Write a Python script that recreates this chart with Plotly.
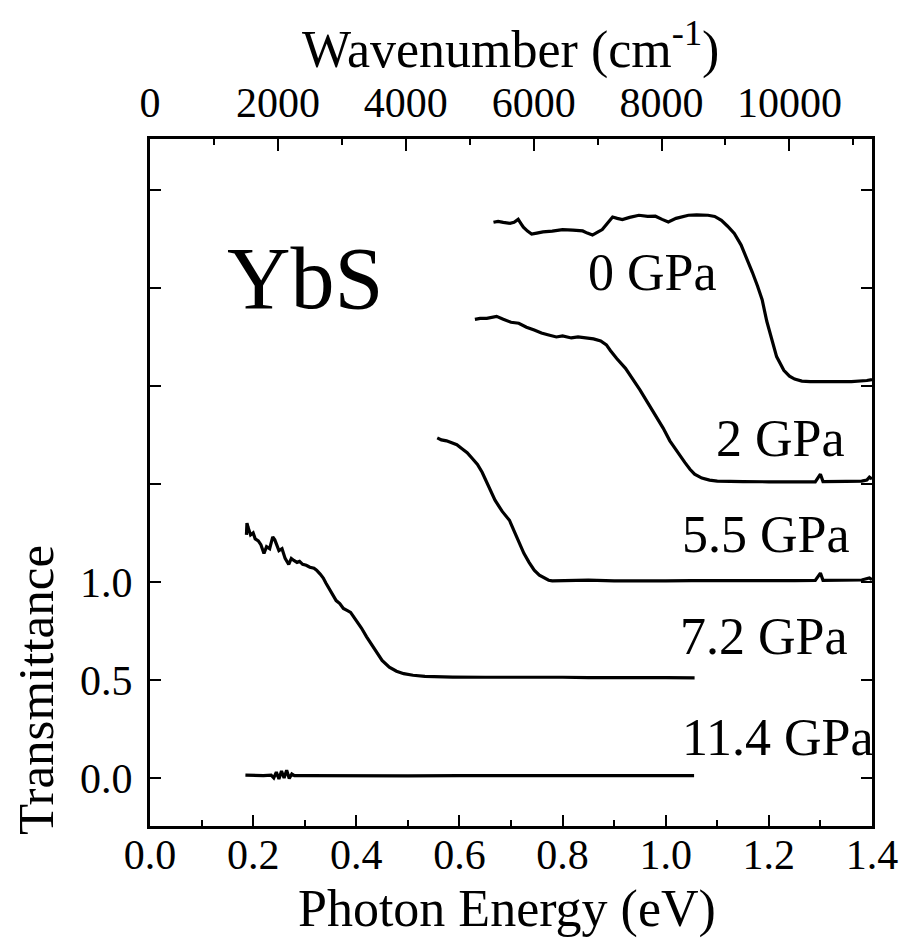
import numpy as np
import plotly.graph_objects as go

# ---------------- data ----------------
pressures = ["0 GPa", "2 GPa", "5.5 GPa", "7.2 GPa", "11.4 GPa"]
offsets = [2.0, 1.5, 1.0, 0.5, 0.0]

E_0gpa = [0.666, 0.675, 0.685, 0.698, 0.706, 0.714, 0.719, 0.724, 0.732, 0.74,
          0.75, 0.762, 0.78, 0.80, 0.82, 0.839, 0.848, 0.858, 0.868, 0.877,
          0.887, 0.897, 0.906, 0.916, 0.93, 0.948, 0.965, 0.98, 0.993, 1.005,
          1.02, 1.044, 1.06, 1.082, 1.095, 1.108, 1.12, 1.133, 1.146, 1.159,
          1.168, 1.178, 1.187, 1.196, 1.206, 1.215, 1.229, 1.24, 1.25, 1.264,
          1.28, 1.32, 1.36, 1.39, 1.4]
T_0gpa = [0.835, 0.84, 0.835, 0.83, 0.835, 0.85, 0.83, 0.81, 0.79, 0.775,
          0.78, 0.786, 0.79, 0.798, 0.795, 0.791, 0.78, 0.77, 0.785, 0.798,
          0.83, 0.862, 0.855, 0.849, 0.86, 0.871, 0.865, 0.866, 0.85, 0.837,
          0.855, 0.871, 0.873, 0.871, 0.865, 0.845, 0.815, 0.778, 0.72, 0.641,
          0.58, 0.51, 0.44, 0.33, 0.23, 0.15, 0.08, 0.05, 0.035, 0.025,
          0.022, 0.021, 0.022, 0.028, 0.033]

E_2gpa = [0.630, 0.640, 0.653, 0.662, 0.672, 0.685, 0.70, 0.715, 0.73, 0.745,
          0.759, 0.773, 0.788, 0.80, 0.817, 0.83, 0.845, 0.86, 0.874, 0.885,
          0.893, 0.905, 0.922, 0.935, 0.95, 0.965, 0.98, 0.995, 1.008, 1.022,
          1.037, 1.047, 1.056, 1.07, 1.085, 1.10, 1.12, 1.15, 1.2, 1.25,
          1.29, 1.30, 1.305, 1.35, 1.38, 1.39, 1.395, 1.4]
T_2gpa = [0.84, 0.845, 0.845, 0.85, 0.855, 0.84, 0.825, 0.82, 0.80, 0.785,
          0.77, 0.76, 0.75, 0.755, 0.745, 0.75, 0.745, 0.74, 0.73, 0.71,
          0.68, 0.64, 0.59, 0.54, 0.48, 0.415, 0.35, 0.285, 0.22, 0.165,
          0.11, 0.075, 0.05, 0.03, 0.02, 0.015, 0.013, 0.012, 0.011, 0.012,
          0.011, 0.05, 0.012, 0.013, 0.015, 0.02, 0.035, 0.025]

E_55gpa = [0.557, 0.565, 0.575, 0.586, 0.595, 0.605, 0.615, 0.625, 0.635, 0.644,
           0.655, 0.669, 0.683, 0.697, 0.711, 0.725, 0.735, 0.745, 0.755, 0.765,
           0.773, 0.78, 0.8, 0.85, 0.9, 0.95, 1.0, 1.05, 1.1, 1.15,
           1.2, 1.25, 1.29, 1.30, 1.305, 1.35, 1.38, 1.395, 1.4]
T_55gpa = [0.735, 0.725, 0.72, 0.71, 0.70, 0.68, 0.66, 0.63, 0.60, 0.56,
           0.50, 0.417, 0.36, 0.315, 0.23, 0.146, 0.10, 0.06, 0.035, 0.018,
           0.009, 0.006, 0.007, 0.009, 0.006, 0.008, 0.006, 0.007, 0.006, 0.007,
           0.006, 0.007, 0.008, 0.045, 0.008, 0.009, 0.01, 0.02, 0.012]

E_72gpa = [0.187, 0.188, 0.190, 0.195, 0.200, 0.204, 0.210, 0.215, 0.221, 0.226,
           0.232, 0.238, 0.242, 0.245, 0.250, 0.256, 0.262, 0.269, 0.274, 0.279,
           0.285, 0.290, 0.296, 0.303, 0.310, 0.318, 0.323, 0.330, 0.336, 0.341,
           0.350, 0.361, 0.368, 0.375, 0.382, 0.389, 0.398, 0.410, 0.420, 0.437,
           0.450, 0.464, 0.478, 0.492, 0.510, 0.533, 0.56, 0.587, 0.65, 0.7,
           0.75, 0.8, 0.85, 0.9, 0.95, 1.0, 1.056]
T_72gpa = [0.74, 0.80, 0.78, 0.74, 0.75, 0.72, 0.71, 0.69, 0.645, 0.68,
           0.67, 0.73, 0.715, 0.69, 0.66, 0.67, 0.62, 0.59, 0.62, 0.61,
           0.60, 0.605, 0.59, 0.585, 0.575, 0.57, 0.56, 0.54, 0.52, 0.495,
           0.455, 0.405, 0.39, 0.365, 0.355, 0.345, 0.31, 0.265, 0.22, 0.15,
           0.10, 0.065, 0.045, 0.032, 0.024, 0.018, 0.016, 0.015, 0.014, 0.015,
           0.013, 0.014, 0.012, 0.013, 0.012, 0.012, 0.011]

E_114gpa = [0.185, 0.20, 0.22, 0.235, 0.24, 0.245, 0.25, 0.255, 0.26, 0.265,
            0.27, 0.275, 0.28, 0.30, 0.35, 0.4, 0.5, 0.6, 0.7, 0.8,
            0.9, 1.0, 1.055]
T_114gpa = [0.015, 0.013, 0.012, 0.014, 0.0, 0.03, -0.005, 0.035, 0.0, 0.04,
            -0.003, 0.02, 0.012, 0.012, 0.011, 0.012, 0.011, 0.012, 0.011, 0.012,
            0.011, 0.012, 0.012]

energy_sets = [E_0gpa, E_2gpa, E_55gpa, E_72gpa, E_114gpa]
trans_sets = [T_0gpa, T_2gpa, T_55gpa, T_72gpa, T_114gpa]

x_ticks = [0.0, 0.2, 0.4, 0.6, 0.8, 1.0, 1.2, 1.4]
x_ticklabels = ["0.0", "0.2", "0.4", "0.6", "0.8", "1.0", "1.2", "1.4"]
y_label_ticks = [0.0, 0.5, 1.0]
y_label_text = ["0.0", "0.5", "1.0"]
y_all_ticks = [0.0, 0.5, 1.0, 1.5, 2.0, 2.5, 3.0]
wn_ticks = [0, 2000, 4000, 6000, 8000, 10000]
wn_ticklabels = ["0", "2000", "4000", "6000", "8000", "10000"]
EV_TO_CM = 8065.54
Y_RANGE = [-0.245, 3.26]

# label positions (energy, offset-transmittance)
label_x = [0.974, 1.223, 1.195, 1.19, 1.217]
label_y = [2.58, 1.733, 1.243, 0.723, 0.208]

# ---------------- figure ----------------
# The page body keeps the browser's default 8px margin, so the figure is
# made 8px smaller and its margins are reduced by 8px on the left/top.
FONT = "Liberation Serif"
fig = go.Figure()
for E, T, off in zip(energy_sets, trans_sets, offsets):
    fig.add_trace(go.Scatter(
        x=E, y=np.array(T) + off, mode="lines",
        line=dict(color="black", width=3.2), showlegend=False, hoverinfo="skip"))

# invisible traces to anchor the top and right axes
fig.add_trace(go.Scatter(x=[0], y=[-10], xaxis="x2", mode="lines",
                         showlegend=False, hoverinfo="skip"))
fig.add_trace(go.Scatter(x=[0], y=[-10], yaxis="y2", mode="lines",
                         showlegend=False, hoverinfo="skip"))

axis_common = dict(showline=True, linewidth=3, linecolor="black",
                   showgrid=False, zeroline=False, ticks="inside",
                   tickcolor="black", tickwidth=2,
                   tickfont=dict(family=FONT, size=42, color="black"))

fig.update_layout(
    width=902, height=937,
    margin=dict(l=142, r=31, t=131, b=119, pad=0),
    paper_bgcolor="white", plot_bgcolor="white",
    font=dict(family=FONT, color="black"),
    showlegend=False,
    xaxis=dict(range=[0, 1.4], tickmode="array", tickvals=x_ticks,
               ticktext=x_ticklabels, ticklen=11, ticklabelstandoff=-10,
               minor=dict(ticks="inside", ticklen=6, tickwidth=2,
                          tickcolor="black", dtick=0.1, tick0=0,
                          showgrid=False),
               **axis_common),
    xaxis2=dict(overlaying="x", side="top", anchor="y",
                range=[0, 1.4 * EV_TO_CM], tickmode="array",
                tickvals=wn_ticks, ticktext=wn_ticklabels, ticklen=12,
                ticklabelstandoff=2,
                minor=dict(ticks="inside", ticklen=6, tickwidth=2,
                           tickcolor="black", dtick=1000, tick0=0,
                           showgrid=False),
                **axis_common),
    yaxis=dict(range=Y_RANGE, tickmode="array", tickvals=y_label_ticks,
               ticktext=y_label_text, ticklen=11, ticklabelstandoff=6,
               minor=dict(ticks="inside", ticklen=11, tickwidth=2,
                          tickcolor="black", dtick=0.5, tick0=0,
                          showgrid=False),
               **axis_common),
    yaxis2=dict(overlaying="y", side="right", anchor="x", range=Y_RANGE,
                tickmode="array", tickvals=y_all_ticks, ticklen=11,
                showticklabels=False, **axis_common),
)

annotations = []
for name, lx, ly in zip(pressures, label_x, label_y):
    annotations.append(dict(x=lx, y=ly, xref="x", yref="y", text=name,
                            showarrow=False, xanchor="center", yanchor="middle",
                            font=dict(family=FONT, size=52, color="black")))
annotations.append(dict(x=0.302, y=2.55, xref="x", yref="y", text="YbS",
                        showarrow=False, xanchor="center", yanchor="middle",
                        font=dict(family=FONT, size=88, color="black")))
annotations.append(dict(x=0.494, y=-0.121, xref="paper", yref="paper",
                        text="Photon Energy (eV)", showarrow=False,
                        xanchor="center", yanchor="middle",
                        font=dict(family=FONT, size=52, color="black")))
annotations.append(dict(x=0.499, y=1.135, xref="paper", yref="paper",
                        text="Wavenumber (cm<sup>-1</sup>)", showarrow=False,
                        xanchor="center", yanchor="middle",
                        font=dict(family=FONT, size=52, color="black")))
annotations.append(dict(x=-0.158, y=0.198, xref="paper", yref="paper",
                        text="Transmittance", showarrow=False, textangle=-90,
                        xanchor="center", yanchor="middle",
                        font=dict(family=FONT, size=51, color="black")))
fig.update_layout(annotations=annotations)

fig.write_html("out.html")
